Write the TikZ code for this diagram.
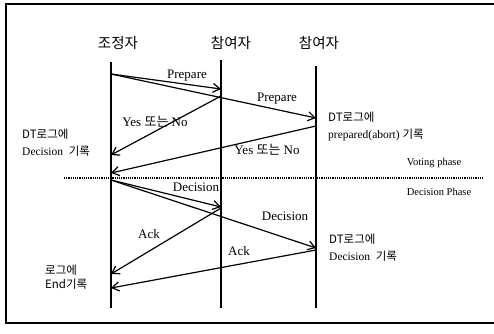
\documentclass[tikz,border=0pt]{standalone}
\usepackage{fontspec}
\setmainfont{Liberation Serif}
\newfontfamily\kr{Noto Sans CJK KR}
\usetikzlibrary{arrows.meta}

\tikzset{
  msg/.style={line width=1.2pt, -{Straight Barb[length=7pt,width=9pt]}},
  life/.style={line width=1.1pt},
  lbl/.style={font=\fontsize{13}{15}\selectfont, inner sep=1pt},
  phase/.style={font=\fontsize{10.5}{12}\selectfont, inner sep=1pt},
  head/.style={font=\kr\fontsize{14.5}{16}\selectfont},
  note/.style={anchor=west, align=left, inner sep=0pt, font=\fontsize{11.5}{17}\selectfont},
}

\begin{document}
\begin{tikzpicture}[x=1pt, y=-1pt]
\def\xC{111}
\def\xA{221}
\def\xB{316}
\useasboundingbox (0,0) rectangle (494,333);

% frame
\draw[line width=1.6pt] (494,4) -- (6,4) -- (6,323) -- (494,323);

% heads
\node[head] (coordHead) at (118,43) {조정자};
\node[head] (partAHead) at (231,43) {참여자};
\node[head] (partBHead) at (319,43) {참여자};

% lifelines
\coordinate (cTop) at (\xC,62);
\coordinate (cBot) at (\xC,308);
\coordinate (aTop) at (\xA,60);
\coordinate (aBot) at (\xA,308);
\coordinate (bTop) at (\xB,66);
\coordinate (bBot) at (\xB,308);
\draw[life, line width=1.5pt] (cTop) -- (cBot);
\draw[life] (aTop) -- (aBot);
\draw[life] (bTop) -- (bBot);

% voting phase
\coordinate (cPrep) at (\xC,74);
\coordinate (aPrep) at (\xA,89);
\coordinate (bPrep) at (\xB,118);
\coordinate (aVote) at (\xA,96);
\coordinate (bVote) at (\xB,126);
\coordinate (cVoteA) at (\xC,155);
\coordinate (cVoteB) at (\xC,173);
\draw[msg] (cPrep) -- (aPrep);
\draw[msg] (cPrep) -- (bPrep);
\draw[msg] (aVote) -- (cVoteA);
\draw[msg] (bVote) -- (cVoteB);

\node[lbl] (prepA) at (187,76) {Prepare};
\node[lbl] (prepB) at (277,99) {Prepare};
\node[lbl] (voteA) at (155,122) {Yes {\kr 또는} No};
\node[lbl] (voteB) at (267,150) {Yes {\kr 또는} No};

% phase border
\coordinate (phaseL) at (64,178);
\coordinate (phaseR) at (483,178);
\draw[line width=1.2pt, densely dotted] (phaseL) -- (phaseR);
\node[phase] (voting) at (434,163) {Voting phase};
\node[phase] (decision) at (439,192) {Decision Phase};

% decision phase
\coordinate (cDec) at (\xC,180);
\coordinate (aDec) at (\xA,207);
\coordinate (bDec) at (\xB,248);
\coordinate (aAck) at (\xA,208);
\coordinate (bAck) at (\xB,250);
\coordinate (cAckA) at (\xC,274);
\coordinate (cAckB) at (\xC,288);
\draw[msg] (cDec) -- (aDec);
\draw[msg] (cDec) -- (bDec);
\draw[msg] (aAck) -- (cAckA);
\draw[msg] (bAck) -- (cAckB);

\node[lbl] (decA) at (196,187) {Decision};
\node[lbl] (decB) at (285,216) {Decision};
\node[lbl] (ackA) at (149,234) {Ack};
\node[lbl] (ackB) at (239,251) {Ack};

% log notes
\node[note] (logB1) at (328,126) {{\kr DT로그에}\\prepared(abort)\ {\kr 기록}};
\node[note] (logC1) at (22,143) {{\kr DT로그에}\\Decision\ \ {\kr 기록}};
\node[note] (logB2) at (329,248) {{\kr DT로그에}\\Decision\ \ {\kr 기록}};
\node[note, font=\fontsize{11.5}{14}\selectfont] (logC2) at (45,277) {{\kr 로그에}\\{\kr End기록}};
\end{tikzpicture}
\end{document}
